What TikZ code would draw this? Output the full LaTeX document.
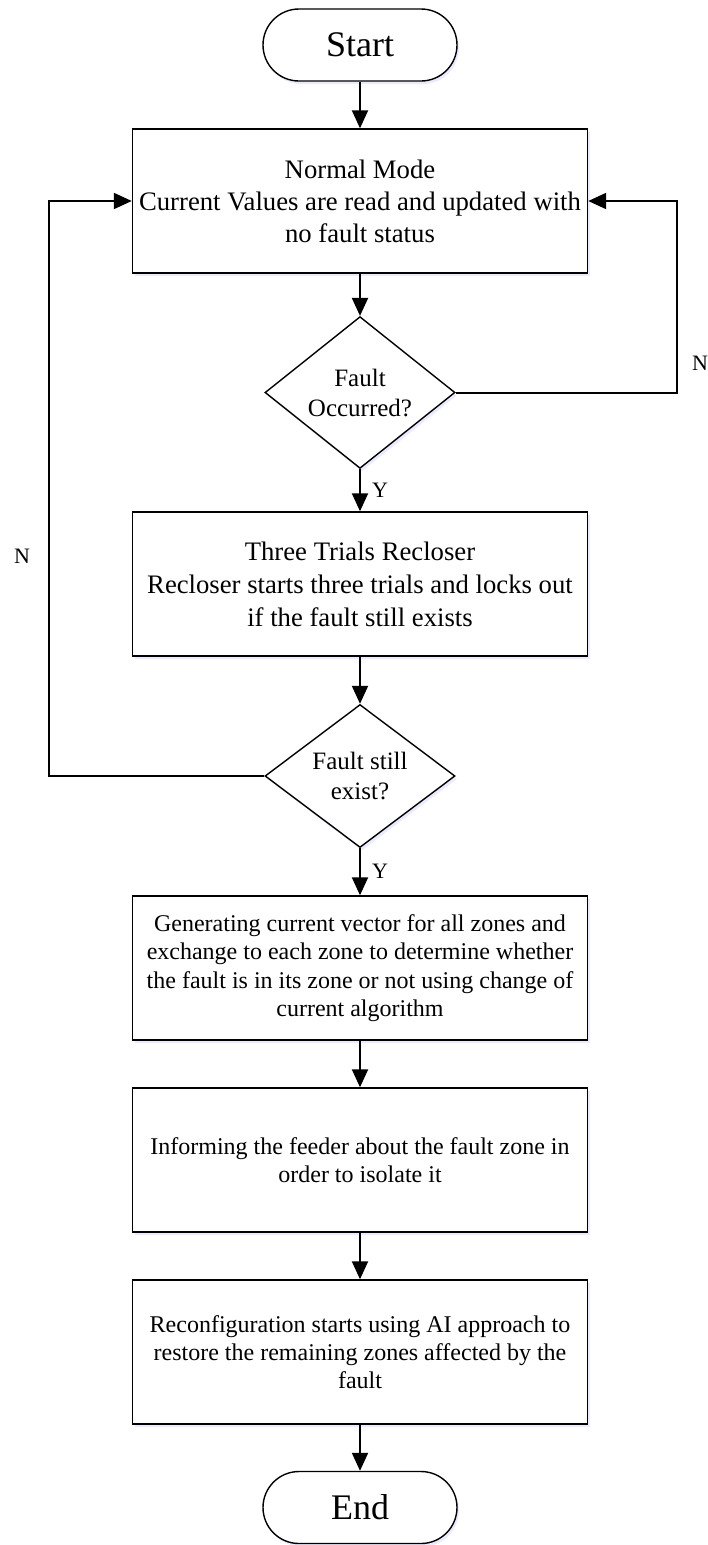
\documentclass[tikz,border=0pt]{standalone}
\usepackage{fontspec}
\setmainfont{Liberation Serif}
\usetikzlibrary{shapes.geometric,arrows.meta,shadows}
\begin{document}
\begin{tikzpicture}[x=1pt,y=-1pt,
  base/.style={draw=black, line width=1.4pt, fill=white,
    drop shadow={shadow xshift=2pt, shadow yshift=-3pt, opacity=0.25, fill=blue!30}},
  term/.style={base, rounded corners=36pt, minimum width=194pt, minimum height=72pt,
    font=\fontsize{36}{40}\selectfont},
  procbox/.style={base, minimum width=455pt, minimum height=144pt, align=center, inner sep=0pt},
  bigtext/.style={font=\fontsize{26.7}{32}\selectfont},
  smalltext/.style={font=\fontsize{24}{28.3}\selectfont},
  decision/.style={base, diamond, minimum width=190pt, minimum height=143pt, inner sep=0pt,
    align=center, font=\fontsize{25}{30}\selectfont},
  conn/.style={line width=2pt, -{Triangle[length=18pt,width=16pt]}},
  lbl/.style={font=\fontsize{22}{26}\selectfont, inner sep=0pt}
]
\useasboundingbox (0,0) rectangle (708,1545);
\fill[white] (0,0) rectangle (708,1545);

\node[term] (start) at (360,45) {Start};
\node[procbox, bigtext] (normal) at (360,201)
  {Normal Mode\\Current Values are read and updated with\\no fault status};
\node[decision] (d1) at (360,392.5) {Fault\\Occurred?};
\node[procbox, font=\fontsize{26.7}{33}\selectfont] (three) at (360,584)
  {Three Trials Recloser\\Recloser starts three trials and locks out\\if the fault still exists};
\node[decision] (d2) at (360,776) {Fault still\\exist?};
\node[procbox, smalltext] (gen) at (360,968)
  {Generating current vector for all zones and\\exchange to each zone to determine whether\\the fault is in its zone or not using change of\\current algorithm};
\node[procbox, smalltext] (inform) at (360,1160)
  {Informing the feeder about the fault zone in\\order to isolate it};
\node[procbox, smalltext] (reconf) at (360,1352)
  {Reconfiguration starts using AI approach to\\restore the remaining zones affected by the\\fault};
\node[term] (end) at (360,1507.5) {End};

\coordinate (rc) at (677,392.5);
\coordinate (lc) at (49,776);

\draw[conn] (start) -- (normal);
\draw[conn] (normal) -- (d1);
\draw[conn] (d1) -- node[lbl, right=11pt, pos=0.5] (y1) {Y} (three);
\draw[conn] (three) -- (d2);
\draw[conn] (d2) -- node[lbl, right=11pt, pos=0.5] (y2) {Y} (gen);
\draw[conn] (gen) -- (inform);
\draw[conn] (inform) -- (reconf);
\draw[conn] (reconf) -- (end);

\draw[conn] (d1.east) -- (rc) |- (normal.east);
\draw[conn] (d2.west) -- (lc) |- (normal.west);

\node[lbl, anchor=west] (n1) at (692,363) {N};
\node[lbl] (n2) at (22,556) {N};
\end{tikzpicture}
\end{document}
